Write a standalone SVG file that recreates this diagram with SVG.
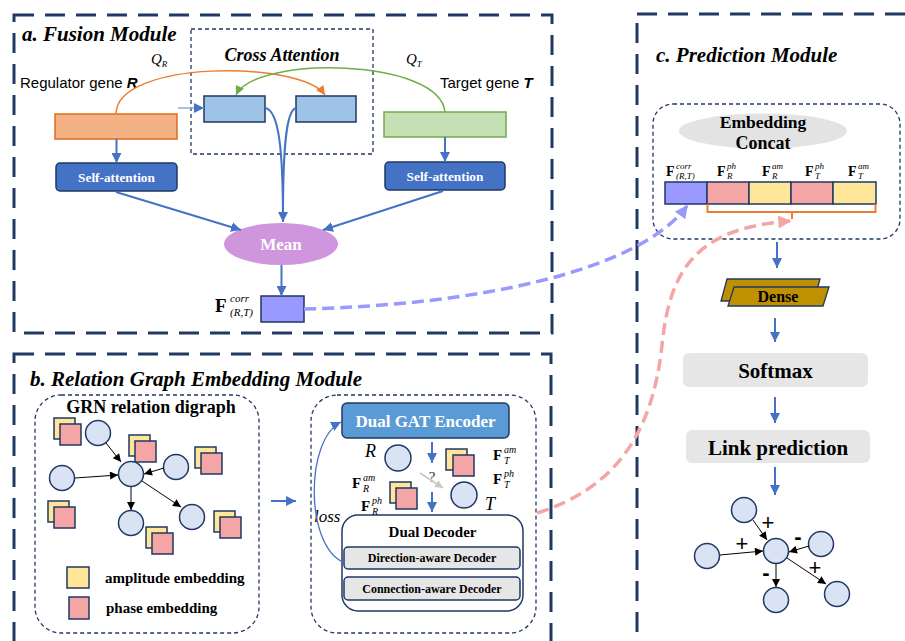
<svg xmlns="http://www.w3.org/2000/svg" width="905" height="641" viewBox="0 0 905 641">
<style>
.frame{fill:none;stroke:#203864;stroke-width:3;stroke-dasharray:20 11}
.inner{fill:none;stroke:#203864;stroke-width:1.3;stroke-dasharray:4 3}
.node{fill:#dae3f3;stroke:#203864;stroke-width:1.5}
.amp{fill:#ffe699;stroke:#203864;stroke-width:1.5}
.pha{fill:#f4a6a6;stroke:#203864;stroke-width:1.5}
.blue{stroke:#4472c4;stroke-width:2;fill:none}
.edge{stroke:#000;stroke-width:1;fill:none}
.sb{font-family:"Liberation Serif",serif;font-weight:bold}
.sbi{font-family:"Liberation Serif",serif;font-weight:bold;font-style:italic}
.si{font-family:"Liberation Serif",serif;font-style:italic}
.sans{font-family:"Liberation Sans",Arial,sans-serif}
.title{font-size:21px;fill:#000}
.wt{fill:#fff}
.F{font-family:"Liberation Serif",serif;font-weight:bold}
.sc{font-family:"Liberation Serif",serif;font-style:italic}
</style>
<defs>
<marker id="mBlue" markerUnits="userSpaceOnUse" markerWidth="10" markerHeight="10" viewBox="0 0 10 10" refX="10" refY="5" orient="auto"><path d="M0,0 L10,5 L0,10 z" fill="#4472c4"/></marker>
<marker id="mLight" markerUnits="userSpaceOnUse" markerWidth="10" markerHeight="10" viewBox="0 0 10 10" refX="10" refY="5" orient="auto"><path d="M0,0 L10,5 L0,10 z" fill="#4472c4"/></marker>
<marker id="mBlack" markerUnits="userSpaceOnUse" markerWidth="9" markerHeight="8" viewBox="0 0 10 10" refX="10" refY="5" orient="auto"><path d="M0,0 L10,5 L0,10 z" fill="#000"/></marker>
<marker id="mGray" markerUnits="userSpaceOnUse" markerWidth="9" markerHeight="8" viewBox="0 0 10 10" refX="10" refY="5" orient="auto"><path d="M0,0 L10,5 L0,10 z" fill="#c9c9c9"/></marker>
<marker id="mOrange" markerUnits="userSpaceOnUse" markerWidth="10" markerHeight="9" viewBox="0 0 10 10" refX="10" refY="5" orient="auto"><path d="M0,0 L10,5 L0,10 z" fill="#ed7d31"/></marker>
<marker id="mGreen" markerUnits="userSpaceOnUse" markerWidth="10" markerHeight="9" viewBox="0 0 10 10" refX="10" refY="5" orient="auto"><path d="M0,0 L10,5 L0,10 z" fill="#70ad47"/></marker>
<marker id="mPurple" markerUnits="userSpaceOnUse" markerWidth="14" markerHeight="13" viewBox="0 0 10 10" refX="9" refY="5" orient="auto"><path d="M0,0 L10,5 L0,10 z" fill="#9999ff"/></marker>
<marker id="mPink" markerUnits="userSpaceOnUse" markerWidth="14" markerHeight="13" viewBox="0 0 10 10" refX="9" refY="5" orient="auto"><path d="M0,0 L10,5 L0,10 z" fill="#f4a6a6"/></marker>
</defs>

<!-- frames -->
<g id="frame-a">
<rect x="14" y="15" width="538" height="318" class="frame"/>
<text x="22" y="41" class="sbi title">a. Fusion Module</text>
</g>
<g id="frame-b">
<rect x="14" y="354" width="537" height="320" class="frame"/>
<text x="30" y="386" class="sbi title">b. Relation Graph Embedding Module</text>
</g>
<g id="frame-c">
<rect x="637" y="14" width="300" height="660" class="frame"/>
<text x="656" y="62" class="sbi title">c. Prediction Module</text>
</g>

<!-- Fusion module -->
<g id="cross-attention">
<rect x="191" y="29" width="182" height="125" fill="#ececec" class="inner"/>
<text x="282" y="61" text-anchor="middle" class="sbi" font-size="18">Cross Attention</text>
<rect x="204" y="96" width="61" height="26" fill="#9dc3e6" stroke="#203864" stroke-width="1.5"/>
<rect x="296" y="96" width="60" height="26" fill="#9dc3e6" stroke="#203864" stroke-width="1.5"/>
</g>
<g id="regulator">
<text x="20" y="88" class="sans" font-size="15">Regulator gene <tspan font-weight="bold" font-style="italic">R</tspan></text>
<rect x="55" y="114" width="122" height="25" fill="#f4b183" stroke="#e06c1c" stroke-width="1.5"/>
</g>
<g id="target">
<text x="440" y="88" class="sans" font-size="15">Target gene <tspan font-weight="bold" font-style="italic">T</tspan></text>
<rect x="384" y="112" width="122" height="25" fill="#c5e0b4" stroke="#70ad47" stroke-width="1.5"/>
</g>
<g id="qlabels">
<text x="151" y="64" class="sc" font-size="15">Q<tspan font-size="9" dy="3">R</tspan></text>
<text x="406" y="64" class="sc" font-size="15">Q<tspan font-size="9" dy="3">T</tspan></text>
</g>
<g id="self-attn-r">
<rect x="56" y="163" width="121" height="28" rx="4" fill="#4472c4" stroke="#203864" stroke-width="1.5"/>
<text x="116.5" y="182" text-anchor="middle" class="sb wt" font-size="13.3">Self-attention</text>
</g>
<g id="self-attn-t">
<rect x="385" y="162" width="120" height="28" rx="4" fill="#4472c4" stroke="#203864" stroke-width="1.5"/>
<text x="445" y="181" text-anchor="middle" class="sb wt" font-size="13.3">Self-attention</text>
</g>
<g id="mean">
<ellipse cx="281" cy="244" rx="57" ry="21" fill="#cf95dd"/>
<text x="281" y="250" text-anchor="middle" class="sb wt" font-size="17">Mean</text>
</g>
<g id="fcorr">
<rect x="261" y="296" width="43" height="26" fill="#9999ff" stroke="#203864" stroke-width="1.5"/>
<text x="215" y="312" class="F" font-size="19">F</text>
<text x="230" y="302" class="sc" font-size="11">corr</text>
<text x="230" y="316" class="sc" font-size="11">(R,T)</text>
</g>

<!-- Relation graph module -->
<g id="grn-digraph">
<rect x="35" y="395" width="224" height="238" rx="26" class="inner"/>
<text x="151" y="413" text-anchor="middle" class="sb" font-size="18">GRN relation digraph</text>
<rect x="54" y="418" width="21" height="21" class="amp"/><rect x="60" y="424" width="21" height="21" class="pha"/>
<rect x="129" y="435" width="21" height="21" class="amp"/><rect x="135" y="441" width="21" height="21" class="pha"/>
<rect x="195" y="447" width="21" height="21" class="amp"/><rect x="201" y="453" width="21" height="21" class="pha"/>
<rect x="48" y="501" width="21" height="21" class="amp"/><rect x="54" y="507" width="21" height="21" class="pha"/>
<rect x="146" y="527" width="21" height="21" class="amp"/><rect x="152" y="533" width="21" height="21" class="pha"/>
<rect x="214" y="511" width="21" height="21" class="amp"/><rect x="220" y="517" width="21" height="21" class="pha"/>
<circle cx="98" cy="433" r="12.5" class="node"/>
<circle cx="62" cy="478" r="12.5" class="node"/>
<circle cx="131" cy="474" r="12.5" class="node"/>
<circle cx="176" cy="467" r="12.5" class="node"/>
<circle cx="131" cy="523" r="12.5" class="node"/>
<circle cx="192" cy="517" r="12.5" class="node"/>
<line x1="106" y1="443" x2="121" y2="462" class="edge" marker-end="url(#mBlack)"/>
<line x1="75" y1="478" x2="118" y2="475" class="edge" marker-end="url(#mBlack)"/>
<line x1="164" y1="468" x2="144" y2="474" class="edge" marker-end="url(#mBlack)"/>
<line x1="131" y1="487" x2="131" y2="510" class="edge" stroke="#555" marker-end="url(#mBlack)"/>
<line x1="142" y1="481" x2="181" y2="507" class="edge" marker-end="url(#mBlack)"/>
<rect x="67" y="567" width="22" height="21" class="amp"/>
<text x="105" y="583" class="sb" font-size="15">amplitude embedding</text>
<rect x="69" y="597" width="20" height="22" class="pha"/>
<text x="106" y="613" class="sb" font-size="15">phase embedding</text>
</g>

<g id="gat-module">
<rect x="311" y="395" width="225" height="238" rx="26" class="inner"/>
</g>
<g id="dual-gat-encoder">
<rect x="342" y="403" width="167" height="35" rx="5" fill="#5b9bd5" stroke="#203864" stroke-width="1.5"/>
<text x="425.5" y="427" text-anchor="middle" class="sb wt" font-size="17">Dual GAT Encoder</text>
</g>
<g id="node-R">
<text x="365" y="457" class="si" font-size="18">R</text>
<circle cx="398" cy="458" r="13" class="node"/>
<text x="352" y="488" class="F" font-size="15">F</text>
<text x="363" y="481" class="sc" font-size="10">am</text>
<text x="363" y="492" class="sc" font-size="10">R</text>
<text x="361" y="511" class="F" font-size="15">F</text>
<text x="372" y="504" class="sc" font-size="10">ph</text>
<text x="372" y="515" class="sc" font-size="10">R</text>
<rect x="390" y="482" width="21" height="21" class="amp"/><rect x="396" y="488" width="21" height="21" class="pha"/>
</g>
<g id="node-T">
<rect x="446" y="449" width="21" height="21" class="amp"/><rect x="453" y="455" width="21" height="21" class="pha"/>
<text x="493" y="460" class="F" font-size="15">F</text>
<text x="504" y="453" class="sc" font-size="10">am</text>
<text x="504" y="464" class="sc" font-size="10">T</text>
<text x="493" y="484" class="F" font-size="15">F</text>
<text x="504" y="477" class="sc" font-size="10">ph</text>
<text x="504" y="488" class="sc" font-size="10">T</text>
<circle cx="464" cy="495" r="13" class="node"/>
<text x="485" y="510" class="si" font-size="18">T</text>
</g>
<g id="query">
<text x="432" y="482" text-anchor="middle" font-family="Liberation Serif, serif" font-size="15" fill="#333">?</text>
</g>
<g id="dual-decoder">
<rect x="342" y="515" width="181" height="96" rx="16" fill="#fff" stroke="#203864" stroke-width="1.5"/>
<text x="432.5" y="537" text-anchor="middle" class="sb" font-size="15">Dual Decoder</text>
<rect x="344" y="547" width="176" height="22" rx="4" fill="#e6e6e6" stroke="#203864" stroke-width="1.5"/>
<text x="432" y="562" text-anchor="middle" class="sb" font-size="12">Direction-aware Decoder</text>
<rect x="344" y="577" width="176" height="23" rx="4" fill="#e6e6e6" stroke="#203864" stroke-width="1.5"/>
<text x="432" y="593" text-anchor="middle" class="sb" font-size="12">Connection-aware Decoder</text>
</g>
<g id="loss-label">
<text x="314" y="522" class="si" font-size="17">loss</text>
</g>

<!-- Prediction module -->
<g id="embedding-concat">
<rect x="653" y="104" width="247" height="135" rx="20" class="inner"/>
<ellipse cx="763" cy="131" rx="84" ry="17.5" fill="#e3e3e3"/>
<text x="763" y="128" text-anchor="middle" class="sb" font-size="17.5">Embedding</text>
<text x="763" y="149" text-anchor="middle" class="sb" font-size="18">Concat</text>
<rect x="665" y="182" width="42" height="22" fill="#9999ff" stroke="#203864" stroke-width="1.5"/>
<rect x="707" y="182" width="42" height="22" class="pha"/>
<rect x="749" y="182" width="42" height="22" class="amp"/>
<rect x="791" y="182" width="42" height="22" class="pha"/>
<rect x="833" y="182" width="43" height="22" class="amp"/>
<text x="666" y="176" class="F" font-size="14">F</text>
<text x="676" y="169" class="sc" font-size="9">corr</text>
<text x="676" y="179" class="sc" font-size="9">(R,T)</text>
<text x="717" y="176" class="F" font-size="14">F</text>
<text x="727" y="169" class="sc" font-size="9">ph</text>
<text x="727" y="179" class="sc" font-size="9">R</text>
<text x="762" y="176" class="F" font-size="14">F</text>
<text x="772" y="169" class="sc" font-size="9">am</text>
<text x="772" y="179" class="sc" font-size="9">R</text>
<text x="805" y="176" class="F" font-size="14">F</text>
<text x="815" y="169" class="sc" font-size="9">ph</text>
<text x="815" y="179" class="sc" font-size="9">T</text>
<text x="848" y="176" class="F" font-size="14">F</text>
<text x="858" y="169" class="sc" font-size="9">am</text>
<text x="858" y="179" class="sc" font-size="9">T</text>
<path d="M707.5,204 V212 H875.5 V204 M792,212 V219" fill="none" stroke="#ed7d31" stroke-width="2"/>
</g>
<g id="dense">
<path d="M727,279 L820,279 L814,301 L721,301 z" fill="#bf9000" stroke="#203864" stroke-width="1.3"/>
<path d="M734,287 L829,287 L823,306 L728,306 z" fill="#bf9000" stroke="#203864" stroke-width="1.3"/>
<text x="778" y="302" text-anchor="middle" class="sb" font-size="16">Dense</text>
</g>
<g id="softmax">
<rect x="683" y="353" width="185" height="34" rx="6" fill="#e6e6e6"/>
<text x="775.5" y="378" text-anchor="middle" class="sb" font-size="21">Softmax</text>
</g>
<g id="link-prediction">
<rect x="686" y="430" width="184" height="33" rx="6" fill="#e6e6e6"/>
<text x="778" y="455" text-anchor="middle" class="sb" font-size="21">Link prediction</text>
</g>
<g id="result-graph">
<circle cx="744" cy="510" r="12.5" class="node"/>
<circle cx="707" cy="556" r="12.5" class="node"/>
<circle cx="776" cy="551" r="12.5" class="node"/>
<circle cx="821" cy="544" r="12.5" class="node"/>
<circle cx="776" cy="600" r="12.5" class="node"/>
<circle cx="837" cy="594" r="12.5" class="node"/>
<line x1="753" y1="520" x2="767" y2="540" class="edge" marker-end="url(#mBlack)"/>
<line x1="720" y1="555" x2="763" y2="551" class="edge" marker-end="url(#mBlack)"/>
<line x1="809" y1="546" x2="789" y2="552" class="edge" marker-end="url(#mBlack)"/>
<line x1="776" y1="564" x2="776" y2="587" class="edge" marker-end="url(#mBlack)"/>
<line x1="787" y1="558" x2="826" y2="584" class="edge" marker-end="url(#mBlack)"/>
<text x="768" y="530" text-anchor="middle" class="sans" font-size="22">+</text>
<text x="742" y="551" text-anchor="middle" class="sans" font-size="22">+</text>
<text x="798" y="544" text-anchor="middle" class="sans" font-size="22" font-weight="bold">-</text>
<text x="766" y="580" text-anchor="middle" class="sans" font-size="22" font-weight="bold">-</text>
<text x="815" y="575" text-anchor="middle" class="sans" font-size="22">+</text>
</g>

<!-- connectors -->
<g id="connectors">
<path d="M116,114 C116,60 300,60 325,95" fill="none" stroke="#ed7d31" stroke-width="1.5" marker-end="url(#mOrange)"/>
<path d="M445,112 C440,58 255,55 236,95" fill="none" stroke="#70ad47" stroke-width="1.5" marker-end="url(#mGreen)"/>
<line x1="178" y1="108" x2="204" y2="108" stroke="#8faadc" stroke-width="1.5" marker-end="url(#mLight)"/>
<path d="M265,108 C279,110 283,150 283,222" class="blue" marker-end="url(#mBlue)"/>
<path d="M296,108 C286,110 283,150 283,215" class="blue"/>
<line x1="116.5" y1="139" x2="116.5" y2="163" class="blue" marker-end="url(#mBlue)"/>
<line x1="445" y1="137" x2="445" y2="162" class="blue" marker-end="url(#mBlue)"/>
<line x1="116" y1="192" x2="241" y2="230" class="blue" marker-end="url(#mBlue)"/>
<line x1="443" y1="191" x2="323" y2="230" class="blue" marker-end="url(#mBlue)"/>
<line x1="281.5" y1="265" x2="281.5" y2="296" class="blue" marker-end="url(#mBlue)"/>
<path d="M304,309 C480,305 640,270 687,206" fill="none" stroke="#9999ff" stroke-width="3.5" stroke-dasharray="12 6" marker-end="url(#mPurple)"/>
<path d="M537,513 C610,490 652,440 662,345 C670,265 700,228 790,221" fill="none" stroke="#f4a6a6" stroke-width="3.5" stroke-dasharray="12 6" marker-end="url(#mPink)"/>
<line x1="271" y1="501" x2="296" y2="501" class="blue" marker-end="url(#mBlue)"/>
<line x1="432" y1="442" x2="432" y2="463" class="blue" marker-end="url(#mBlue)"/>
<line x1="432" y1="492" x2="432" y2="512" class="blue" marker-end="url(#mBlue)"/>
<line x1="420" y1="473" x2="443" y2="488" stroke="#c9c9c9" stroke-width="2" marker-end="url(#mGray)"/>
<path d="M343,562 C305,545 305,440 341,422" fill="none" stroke="#4472c4" stroke-width="1.3" marker-end="url(#mBlue)"/>
<line x1="777" y1="242" x2="777" y2="268" class="blue" stroke-width="1.5" marker-end="url(#mBlue)"/>
<line x1="775" y1="318" x2="775" y2="342" class="blue" stroke-width="1.5" marker-end="url(#mBlue)"/>
<line x1="775" y1="397" x2="775" y2="423" class="blue" stroke-width="1.5" marker-end="url(#mBlue)"/>
<line x1="775" y1="467" x2="775" y2="495" class="blue" stroke-width="1.5" marker-end="url(#mBlue)"/>
</g>
</svg>
